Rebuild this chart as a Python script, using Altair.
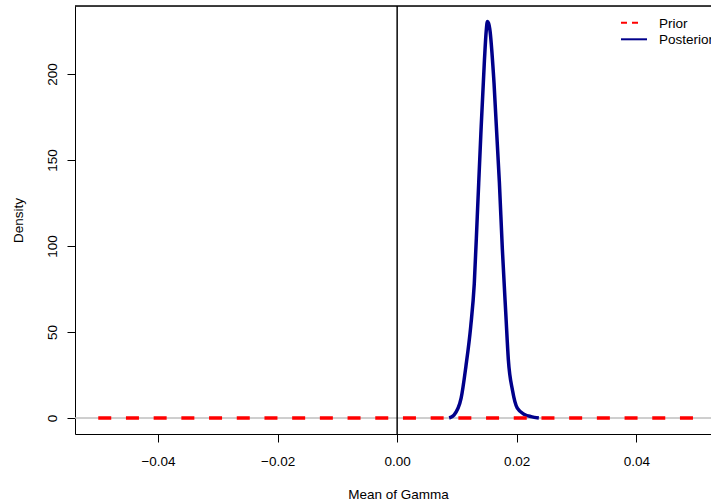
import altair as alt
import pandas as pd

# Posterior density curve
post_x = [0.0087, 0.0095, 0.0107, 0.0115, 0.0123, 0.0129, 0.0134, 0.0140, 0.0146,
          0.0149, 0.0151, 0.0153, 0.0155, 0.0162, 0.0171, 0.0176, 0.0182, 0.0186,
          0.0193, 0.0201, 0.0213, 0.0224, 0.0237]
post_y = [0.0, 1.7, 11.5, 30.0, 53.0, 78.0, 117.0, 165.0, 208.0,
          225.0, 230.5, 229.5, 226.0, 195.0, 137.0, 98.0, 59.0, 34.0,
          16.0, 5.7, 2.1, 0.8, 0.0]

# Prior density (flat, essentially zero on this scale)
prior_x = [-0.05, 0.05]
prior_y = [0.0, 0.0]

x_ticks = [-0.04, -0.02, 0.0, 0.02, 0.04]
y_ticks = [0, 50, 100, 150, 200]
legend_labels = ["Prior", "Posterior"]
legend_colors = ["#FF0000", "#00008B"]

x_domain = [-0.05389, 0.05250]
y_domain = [-9.3, 239.5]

FONT = "Liberation Sans"
FS = 13.5

post_df = pd.DataFrame({"x": post_x, "y": post_y})
prior_df = pd.DataFrame({"x": prior_x, "y": prior_y})

xscale = alt.Scale(domain=x_domain, nice=False, zero=False)
yscale = alt.Scale(domain=y_domain, nice=False, zero=False)

xaxis = alt.Axis(values=x_ticks, format=".2f", grid=False, domainColor="black",
                 domainWidth=1, tickColor="black", tickSize=8, labelFont=FONT,
                 labelFontSize=FS, labelColor="black", labelBaseline="alphabetic",
                 labelPadding=23, title="Mean of Gamma", titleFont=FONT,
                 titleFontSize=FS, titleFontWeight="normal", titleColor="black",
                 titleBaseline="alphabetic", titleX=323, titleY=64, titleAlign="center",
                 labelFlush=False)
yaxis = alt.Axis(values=y_ticks, grid=False, domainColor="black", domainWidth=1,
                 tickColor="black", tickSize=8, labelFont=FONT, labelFontSize=FS,
                 labelColor="black", labelAngle=270, labelAlign="center",
                 labelBaseline="alphabetic", labelPadding=10.5, title="Density",
                 titleFont=FONT, titleFontSize=FS, titleFontWeight="normal",
                 titleColor="black", titleAngle=270, titleAlign="center",
                 titleBaseline="middle", titleX=-57, titleY=214, labelFlush=False)

zero_h = alt.Chart(prior_df).mark_rule(color="#BEBEBE", strokeWidth=1).encode(
    y=alt.datum(0, scale=yscale, axis=yaxis)
)
zero_v = alt.Chart(prior_df).mark_rule(color="black", strokeWidth=1).encode(
    x=alt.datum(0, scale=xscale, axis=xaxis)
)
top_line = alt.Chart(prior_df).mark_rule(color="black", strokeWidth=1).encode(
    y=alt.value(0)
)

post_line = alt.Chart(post_df).mark_line(color="#00008B", strokeWidth=3.5,
                                         interpolate="monotone", clip=True).encode(
    x=alt.X("x:Q", scale=xscale, axis=xaxis),
    y=alt.Y("y:Q", scale=yscale, axis=yaxis),
)

prior_line = alt.Chart(prior_df).mark_line(color="#FF0000", strokeWidth=3.5,
                                           strokeDash=[13, 14.7], strokeCap="butt",
                                           clip=True).encode(
    x=alt.X("x:Q", scale=xscale, axis=xaxis),
    y=alt.Y("y:Q", scale=yscale, axis=yaxis),
)

leg_df0 = pd.DataFrame({"label": [legend_labels[0]]})
leg_df1 = pd.DataFrame({"label": [legend_labels[1]]})

leg_rule0 = alt.Chart(leg_df0).mark_rule(color=legend_colors[0], strokeWidth=2,
                                          strokeDash=[6, 5]).encode(
    x=alt.value(546), x2=alt.value(563), y=alt.value(16.7)
)
leg_rule1 = alt.Chart(leg_df1).mark_rule(color=legend_colors[1], strokeWidth=2).encode(
    x=alt.value(546), x2=alt.value(572), y=alt.value(33.3)
)
leg_text0 = alt.Chart(leg_df0).mark_text(align="left", baseline="middle", font=FONT,
                                          fontSize=FS, color="black").encode(
    x=alt.value(584), y=alt.value(18), text="label:N"
)
leg_text1 = alt.Chart(leg_df1).mark_text(align="left", baseline="middle", font=FONT,
                                          fontSize=FS, color="black").encode(
    x=alt.value(584), y=alt.value(33.5), text="label:N"
)

chart = alt.layer(
    zero_h, zero_v, top_line, post_line, prior_line,
    leg_rule0, leg_rule1, leg_text0, leg_text1
).properties(
    width=636, height=428,
    autosize=alt.AutoSizeParams(type="none"),
    padding={"left": 75, "top": 6, "right": 0, "bottom": 70},
).configure_view(strokeWidth=0).configure(background="white")

chart.save("out.html", embed_options={"renderer": "svg", "actions": False})
